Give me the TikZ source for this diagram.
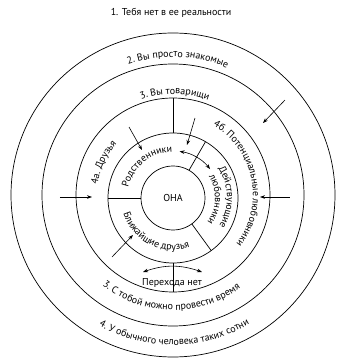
\documentclass[tikz,border=0pt]{standalone}
\usepackage{fontspec}
\setmainfont{PT Sans}
\usetikzlibrary{arrows.meta,decorations.text,calc}
\newcommand\arcfont{\fontsize{10}{12}\selectfont}
\begin{document}
\begin{tikzpicture}[x=1pt,y=1pt,
  ring/.style={draw,circle,inner sep=0pt,outer sep=0pt,line width=0.7pt},
  sepline/.style={line width=0.7pt},
  arr/.style={line width=0.6pt,-{Stealth[length=5pt,width=3.6pt]}},
  darr/.style={line width=0.6pt,{Stealth[length=5pt,width=3.6pt]}-{Stealth[length=5pt,width=3.6pt]}},
  lbl/.style={font=\fontsize{10}{12}\selectfont,inner sep=1pt},
  arctext/.style={decorate,decoration={text along path,text align=center,text={|\arcfont|#1}}}
]
\useasboundingbox (0,0) rectangle (337,360);
\coordinate (O) at (173,165);
\coordinate (C) at (173,162);
% circles
\node[ring,minimum size=324pt] (c1) at (O) {};
\node[ring,minimum size=262pt] (c2) at (O) {};
\node[ring,minimum size=194pt] (c3) at (O) {};
\node[ring,minimum size=130pt] (c4) at (C) {};
\node[ring,minimum size=64pt] (c5) at (C) {};
% separators
\draw[sepline] (c3.90) -- (c4.90);
\draw[sepline] (c4.270) -- (c3.270);
\draw[sepline] (c4.180) -- (c5.180);
\draw[sepline] (c4.60) -- (c5.60);
\draw[sepline] (c4.-54) -- (c5.-54);
% texts
\node[lbl] (t1) at (171,347) {1. Тебя нет в ее реальности};
\node[lbl] (ona) at (C) {ОНА};
\node[lbl] (nopass) at (172,77) {Перехода нет};
\path[arctext={2. Вы просто знакомые}] ($(O)+(125:138)$) arc[start angle=125,end angle=51,radius=138];
\path[arctext={3. Вы товарищи}] ($(O)+(126:101)$) arc[start angle=126,end angle=52,radius=101];
\path[arctext={4а. Друзья}] ($(O)+(197:76)$) arc[start angle=197,end angle=113,radius=76];
\path[arctext={4б. Потенциальные любовники}] ($(O)+(75:80)$) arc[start angle=75,end angle=-53,radius=80];
\path[arctext={Родственники}] ($(C)+(189:46)$) arc[start angle=189,end angle=69,radius=46];
\path[arctext={Действующие}] ($(C)+(56:54)$) arc[start angle=56,end angle=-54,radius=54];
\path[arctext={любовники}] ($(C)+(58:42)$) arc[start angle=58,end angle=-62,radius=42];
\path[arctext={Ближайшие друзья}] ($(C)+(183:52)$) arc[start angle=183,end angle=303,radius=52];
\path[arctext={3. С тобой можно провести время}] ($(O)+(214:115)$) arc[start angle=214,end angle=324,radius=115];
\path[arctext={4. У обычного человека таких сотни}] ($(O)+(226.5:150)$) arc[start angle=226.5,end angle=314.5,radius=150];
% arrow end points
\coordinate (a1) at (60,163);  \coordinate (a2) at (92,163);
\coordinate (b1) at (290,163); \coordinate (b2) at (260,163);
\coordinate (c1s) at (285,260); \coordinate (c1e) at (263,237);
\coordinate (d1) at (195,242); \coordinate (d2) at (187,215);
\coordinate (e1) at (129,233); \coordinate (e2) at (142,210);
\coordinate (g1) at (112,103); \coordinate (g2) at (133,125);
\coordinate (h1) at (143,88);  \coordinate (h2) at (202,88);
\coordinate (f1) at ($(C)+(82:47)$);
% arrows
\draw[arr] (a1) -- (a2);
\draw[arr] (b1) -- (b2);
\draw[arr] (c1s) -- (c1e);
\draw[arr] (d1) -- (d2);
\draw[arr] (e1) -- (e2);
\draw[arr] (g1) -- (g2);
\draw[darr] (h1) to[bend left=19] (h2);
\draw[darr] (f1) arc[start angle=82,end angle=38,radius=47];
\end{tikzpicture}
\end{document}
